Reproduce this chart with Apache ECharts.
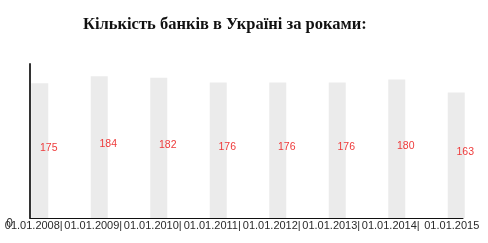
<!DOCTYPE html>
<html>
<head>
<meta charset="utf-8">
<script src="https://cdn.jsdelivr.net/npm/echarts@6/dist/echarts.min.js"></script>
<style>html,body{margin:0;padding:0;background:#fff}#c{width:488px;height:243px}</style>
</head>
<body>
<div id="c"></div>
<script>
var titleText = 'Кількість банків в Україні за роками:';
var categories = ['01.01.2008','01.01.2009','01.01.2010','01.01.2011','01.01.2012','01.01.2013','01.01.2014','01.01.2015'];
var bankCounts = [175, 184, 182, 176, 176, 176, 180, 163];
var yTicks = [0];

var chart = echarts.init(document.getElementById('c'), null, {renderer: 'canvas'});
chart.setOption({
  animation: false,
  title: {
    text: titleText,
    left: 78, top: 11,
    textStyle: {fontFamily: 'Liberation Serif', fontWeight: 'bold', fontSize: 16.5, color: '#111'}
  },
  grid: [
    {left: 10, right: 2, top: 64, bottom: 25},
    {left: 30, right: 25, top: 64, bottom: 25}
  ],
  xAxis: [
    {
      type: 'category', gridIndex: 0, data: categories,
      axisLine: {show: false}, axisTick: {show: false},
      axisLabel: {
        interval: 0, margin: 2, fontFamily: 'Liberation Sans', fontSize: 11, color: '#2a2a2a',
        padding: [0, 12, 0, 0],
        formatter: function (v, i) { return i < categories.length - 1 ? v + '|' : ' ' + v; }
      }
    },
    {
      type: 'value', gridIndex: 1, min: 0, max: 1,
      axisLine: {show: true, lineStyle: {color: '#111', width: 1}},
      axisTick: {show: false}, axisLabel: {show: false}, splitLine: {show: false}
    }
  ],
  yAxis: [
    {type: 'value', gridIndex: 0, min: 0, max: 200, show: false, splitLine: {show: false}},
    {
      type: 'value', gridIndex: 1, min: 0, max: 200, interval: 200,
      axisLine: {show: true, lineStyle: {color: '#333', width: 2}},
      axisTick: {show: false}, splitLine: {show: false},
      axisLabel: {
        margin: 17, verticalAlign: 'top', fontFamily: 'Liberation Sans', fontSize: 12, color: '#333',
        formatter: function (v) { return yTicks.indexOf(v) >= 0 ? String(v) : ''; }
      }
    }
  ],
  series: [{
    type: 'bar', xAxisIndex: 0, yAxisIndex: 0,
    data: bankCounts, barWidth: 17,
    itemStyle: {color: '#ebebeb'},
    label: {
      show: true, position: 'inside', offset: [9, -3],
      fontFamily: 'Liberation Sans', fontSize: 10.5, color: '#ee3b3b'
    }
  }]
});
</script>
</body>
</html>
